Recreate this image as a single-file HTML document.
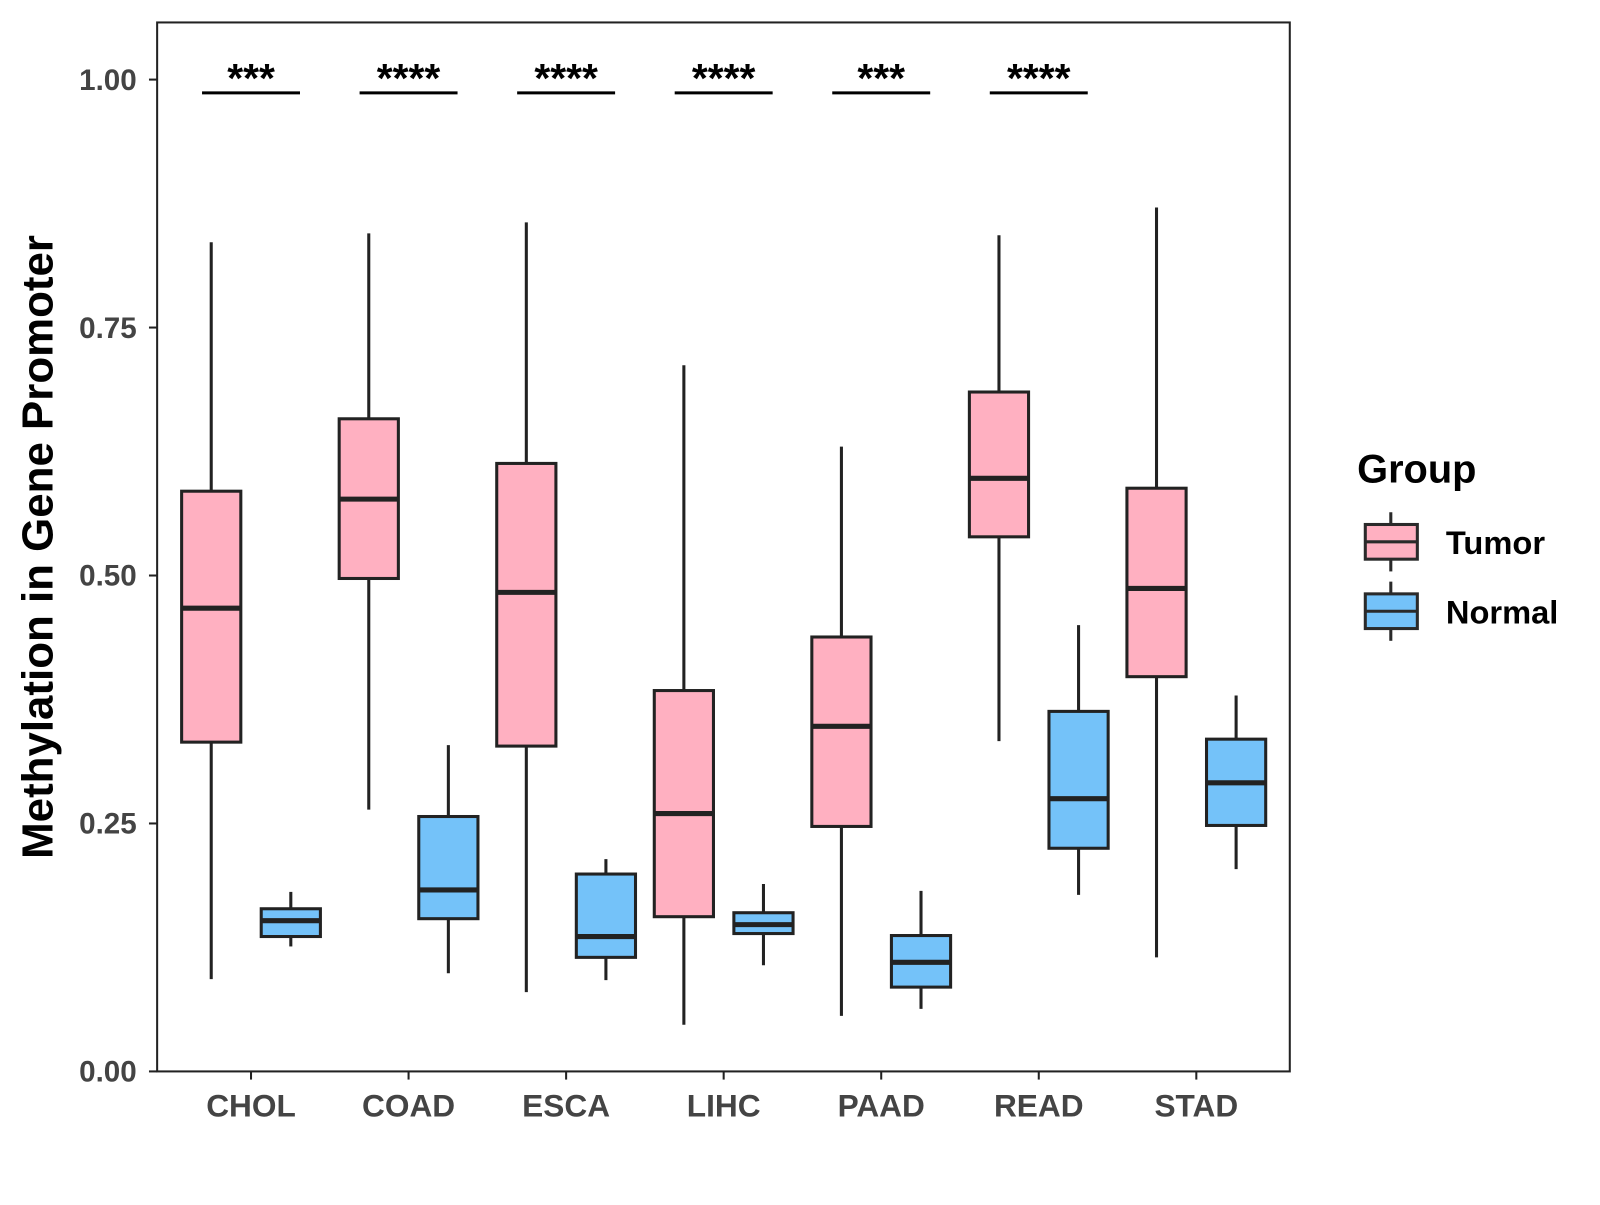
<!DOCTYPE html>
<html><head><meta charset="utf-8"><style>
body{margin:0;background:#fff;}
svg text{font-family:"Liberation Sans",Arial,sans-serif;font-weight:bold;}
</style></head><body>
<svg id="chart" width="1600" height="1200" viewBox="0 0 1600 1200" xmlns="http://www.w3.org/2000/svg">
<g transform="scale(1.0204)">
<rect x="154" y="22" width="1110" height="1028" fill="#fff" stroke="#222" stroke-width="2"/>
<g id="marks"></g>
<text x="40" y="536" transform="rotate(-90 40 536)" text-anchor="middle" dominant-baseline="middle" font-size="43" fill="#000">Methylation in Gene Promoter</text>
<g>
<text x="1330" y="473" font-size="39" fill="#000">Group</text>
<g>
<line x1="1363" y1="502" x2="1363" y2="560" stroke="#2a2a2a" stroke-width="3"/>
<rect x="1338" y="514" width="51" height="34" fill="#FFB0C1" stroke="#2a2a2a" stroke-width="3"/>
<line x1="1338" y1="531" x2="1389" y2="531" stroke="#2a2a2a" stroke-width="3"/>
<text x="1417" y="543" font-size="32" fill="#000">Tumor</text></g>
<g>
<line x1="1363" y1="570" x2="1363" y2="628" stroke="#2a2a2a" stroke-width="3"/>
<rect x="1338" y="582" width="51" height="34" fill="#74C2F9" stroke="#2a2a2a" stroke-width="3"/>
<line x1="1338" y1="599" x2="1389" y2="599" stroke="#2a2a2a" stroke-width="3"/>
<text x="1417" y="611" font-size="32" fill="#000">Normal</text></g>
</g>
</g>
</svg>
<script>
const categories=["CHOL","COAD","ESCA","LIHC","PAAD","READ","STAD"];
const tumorStats=[[0.093,0.332,0.467,0.585,0.836],[0.264,0.497,0.577,0.658,0.845],[0.080,0.328,0.483,0.613,0.856],[0.047,0.156,0.260,0.384,0.712],[0.056,0.247,0.348,0.438,0.630],[0.333,0.539,0.598,0.685,0.843],[0.115,0.398,0.487,0.588,0.871]];
const normalStats=[[0.126,0.136,0.152,0.164,0.181],[0.099,0.154,0.183,0.257,0.329],[0.092,0.115,0.136,0.199,0.214],[0.107,0.139,0.148,0.160,0.189],[0.063,0.085,0.110,0.137,0.182],[0.178,0.225,0.275,0.363,0.450],[0.204,0.248,0.291,0.335,0.379]];
const significance=["***","****","****","****","***","****",""];
const yTicks=[0,0.25,0.5,0.75,1.0];
const yTickLabels=["0.00","0.25","0.50","0.75","1.00"];
const NS="http://www.w3.org/2000/svg";
const g=document.getElementById('marks');
const y=v=>1050-v*972;
const x=i=>246+i*154.4;
function mk(t,a,parent){const e=document.createElementNS(NS,t);for(const k in a)e.setAttribute(k,a[k]);(parent||g).appendChild(e);return e;}
yTicks.forEach((v,i)=>{
 const t=mk('line',{x1:146,x2:154,y1:y(v),y2:y(v),stroke:'#222','stroke-width':2});
 
 
 const l=mk('text',{x:134,y:y(v)+10,'text-anchor':'end','font-size':29,fill:'#444'});
 l.textContent=yTickLabels[i];
 
 
});
function box(cx,s,fill,name){
 const grp=mk('g',{});
 
 
 mk('line',{x1:cx,x2:cx,y1:y(s[0]),y2:y(s[4]),stroke:'#222','stroke-width':3},grp);
 mk('rect',{x:cx-29,y:y(s[3]),width:58,height:y(s[1])-y(s[3]),fill:fill,stroke:'#222','stroke-width':3},grp);
 mk('line',{x1:cx-29,x2:cx+29,y1:y(s[2]),y2:y(s[2]),stroke:'#222','stroke-width':5},grp);
}
categories.forEach((c,i)=>{
 const cx=x(i);
 box(cx-39,tumorStats[i],'#FFB0C1','box-tumor-'+c.toLowerCase());
 box(cx+39,normalStats[i],'#74C2F9','box-normal-'+c.toLowerCase());
 const t=mk('line',{x1:cx,x2:cx,y1:1050,y2:1058,stroke:'#222','stroke-width':2});
 
 
 const l=mk('text',{x:cx,y:1094,'text-anchor':'middle','font-size':31,fill:'#444'});
 l.textContent=c;
 
 
 if(significance[i]){
  const sl=mk('line',{x1:cx-48,x2:cx+48,y1:91,y2:91,stroke:'#000','stroke-width':3});
  
  
  const st=mk('text',{x:cx,y:90,'text-anchor':'middle','font-size':40,fill:'#000'});
  st.textContent=significance[i];
  
  
 }
});
</script>
</body></html>
